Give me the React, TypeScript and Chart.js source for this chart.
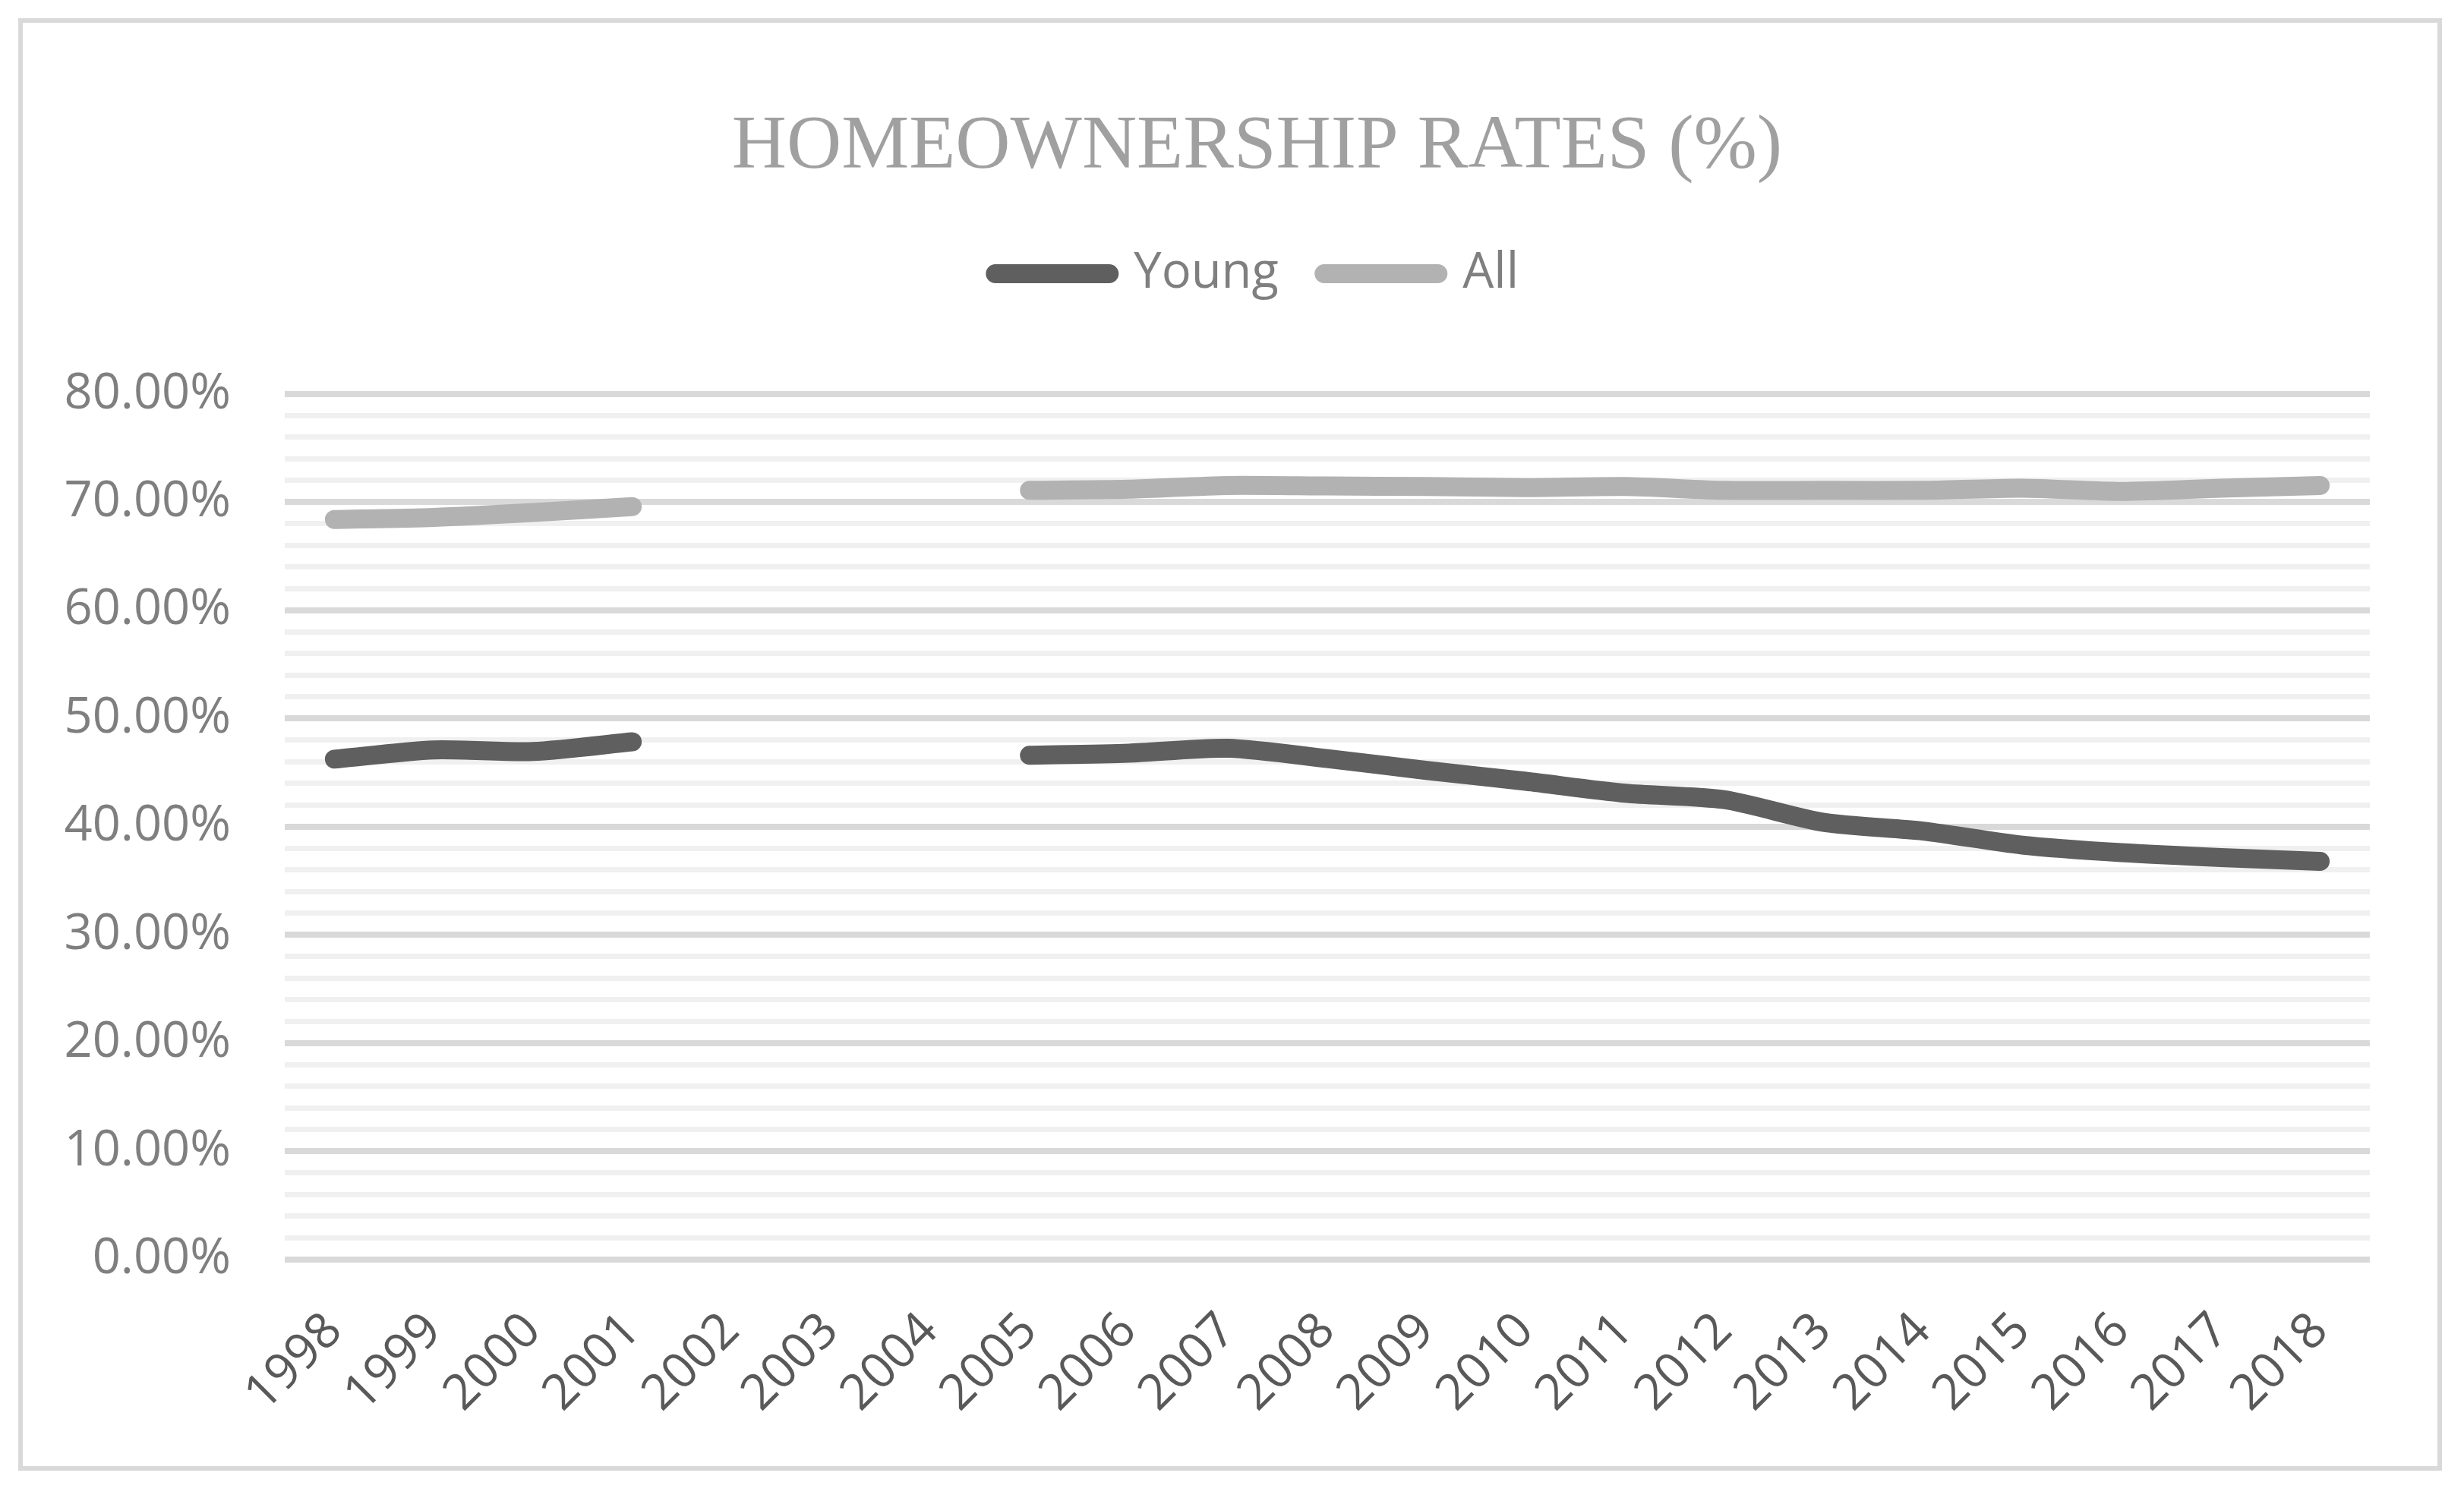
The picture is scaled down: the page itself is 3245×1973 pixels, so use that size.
import React, { useEffect, useRef } from 'react';
import { Chart, registerables } from 'chart.js';

Chart.register(...registerables);

// ---- Data (percent) ----
const YEARS = ['1998', '1999', '2000', '2001', '2002', '2003', '2004', '2005', '2006', '2007', '2008', '2009', '2010', '2011', '2012', '2013', '2014', '2015', '2016', '2017', '2018'];
const YOUNG = [46.25, 47.1, 46.95, 47.85, null, null, null, 46.6, 46.8, 47.25, 46.3, 45.2, 44.2, 43.1, 42.5, 40.4, 39.6, 38.3, 37.6, 37.15, 36.8];
const ALL = [68.4, 68.6, 69.05, 69.6, null, null, null, 71.1, 71.2, 71.55, 71.5, 71.45, 71.35, 71.45, 71.1, 71.1, 71.1, 71.3, 71.0, 71.3, 71.55];
const SERIES_NAMES = ['Young', 'All'];
const SERIES_COLORS = ['#5f5f5f', '#b2b2b2'];
const TITLE = 'HOMEOWNERSHIP RATES (%)';
const Y_MIN = 0;
const Y_MAX = 80;
const Y_STEP = 2;
const Y_LABEL_EVERY = 10;

const SANS = "'Open Sans', 'Noto Sans', sans-serif";
const SERIF = "'Liberation Serif', 'Times New Roman', serif";

export default function App() {
  const ref = useRef<HTMLCanvasElement | null>(null);

  useEffect(() => {
    const canvas = ref.current;
    if (!canvas) return;

    const layoutTweaks = {
      id: 'layoutTweaks',
      beforeLayout(chart: any) {
        const legend = chart.legend;
        if (legend && !legend.__patched) {
          const fit = legend.fit.bind(legend);
          legend.fit = function () {
            fit();
            this.height += 116;
          };
          legend.__patched = true;
        }
      },
      beforeDraw(chart: any) {
        const y = chart.scales && chart.scales.y;
        if (y) y._computeLabelArea = () => undefined;
      },
    };

    const datasets = [YOUNG, ALL].map((d, i) => ({
      label: SERIES_NAMES[i],
      data: d,
      borderColor: SERIES_COLORS[i],
      backgroundColor: SERIES_COLORS[i],
      borderWidth: 25,
      borderCapStyle: 'round' as const,
      borderJoinStyle: 'round' as const,
      pointRadius: 0,
      pointHoverRadius: 0,
      tension: 0.25,
      spanGaps: false,
      fill: false,
    }));

    const chart = new Chart(canvas, {
      type: 'line',
      data: { labels: YEARS, datasets },
      plugins: [layoutTweaks],
      options: {
        responsive: false,
        animation: false,
        events: [],
        layout: { padding: { left: 160, right: 89, top: 0, bottom: 0 } },
        plugins: {
          title: {
            display: true,
            text: TITLE,
            color: '#a0a0a0',
            font: { family: SERIF, size: 100, weight: 'normal' },
            padding: { top: 104, bottom: 14 },
          },
          legend: {
            display: true,
            position: 'top',
            labels: {
              usePointStyle: true,
              pointStyle: 'line',
              pointStyleWidth: 150,
              boxHeight: 65,
              padding: 60,
              color: '#7f7f7f',
              font: { family: SANS, size: 65 },
              generateLabels: (c: any) =>
                Chart.defaults.plugins.legend.labels.generateLabels(c).map((l: any, i: number) => ({
                  ...l,
                  pointStyle: 'line',
                  lineCap: 'round',
                  lineWidth: 25,
                  strokeStyle: SERIES_COLORS[i],
                  fillStyle: SERIES_COLORS[i],
                })),
            },
          },
          tooltip: { enabled: false },
        },
        scales: {
          x: {
            type: 'category',
            offset: true,
            grid: { display: false, drawTicks: false },
            border: { display: false },
            ticks: {
              autoSkip: false,
              minRotation: 45,
              maxRotation: 45,
              padding: 56,
              color: '#595959',
              font: { family: SANS, size: 65 },
            },
          },
          y: {
            min: Y_MIN,
            max: Y_MAX,
            grid: {
              drawTicks: false,
              color: (ctx: any) =>
                ctx.tick && Math.round(ctx.tick.value) % Y_LABEL_EVERY === 0 ? '#d9d9d9' : '#f0f0f0',
              lineWidth: (ctx: any) =>
                ctx.tick && Math.round(ctx.tick.value) % Y_LABEL_EVERY === 0 ? 8 : 7,
            },
            border: { display: false },
            ticks: {
              stepSize: Y_STEP,
              autoSkip: false,
              padding: 71,
              color: '#7f7f7f',
              font: { family: SANS, size: 65 },
              callback: (v: any) => {
                const n = Math.round(Number(v));
                return n % Y_LABEL_EVERY === 0 ? n.toFixed(2) + '%' : '';
              },
            },
            afterFit: (s: any) => {
              s.width = 185;
            },
          },
        },
      },
    });

    return () => chart.destroy();
  }, []);

  return (
    <div style={{ position: 'fixed', left: 0, top: 0, width: 3245, height: 1973, background: '#ffffff' }}>
      <div
        style={{
          position: 'absolute',
          left: 24,
          top: 24,
          width: 3192,
          height: 1913,
          border: '6px solid #d9d9d9',
          boxSizing: 'border-box',
          background: '#ffffff',
        }}
      >
        <canvas ref={ref} width={3180} height={1901} style={{ display: 'block', width: 3180, height: 1901 }} />
      </div>
    </div>
  );
}
